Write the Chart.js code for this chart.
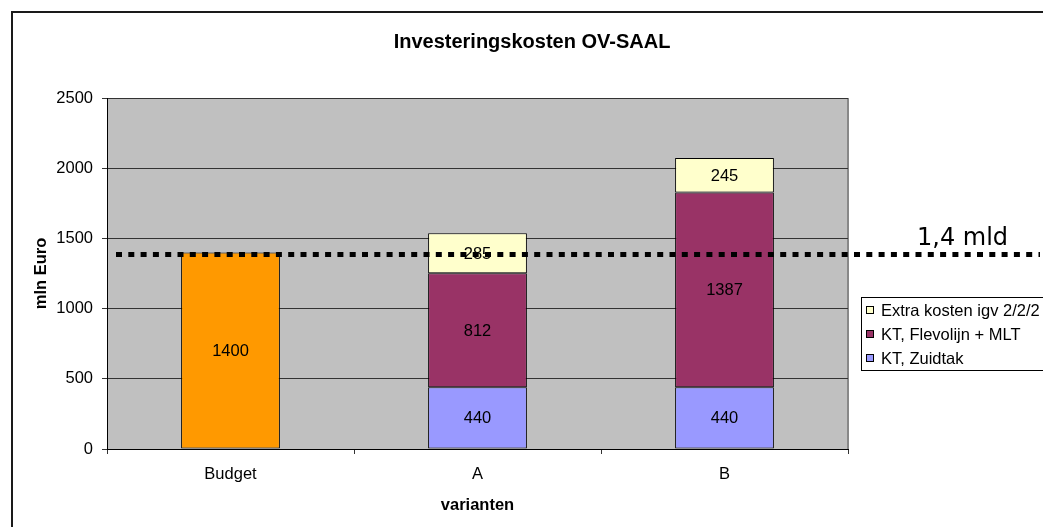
<!DOCTYPE html>
<html><head><meta charset="utf-8">
<script src="https://cdn.jsdelivr.net/npm/chart.js@4.4.1/dist/chart.umd.min.js"></script>
<style>
html,body{margin:0;padding:0;background:#fff;overflow:hidden;width:1043px;height:527px}
#wrap{position:absolute;left:0;top:0;width:1064px;height:527px}
canvas{display:block}
</style></head><body><div id="wrap"><canvas id="c" width="1064" height="527" style="width:1064px;height:527px"></canvas></div>
<script>
// ---- data ----
const categories = ['Budget', 'A', 'B'];
const budget = [1400, null, null];
const zuidtak = [null, 440, 440];
const flevolijn = [null, 812, 1387];
const extra = [null, 285, 245];
const seriesNames = ['Budget', 'KT, Zuidtak', 'KT, Flevolijn + MLT', 'Extra kosten igv 2/2/2'];
const seriesColors = ['#FF9900', '#9999FF', '#993366', '#FFFFCC'];
const yTicks = [0, 500, 1000, 1500, 2000, 2500];
const budgetLine = 1385;
const budgetLineLabel = '1,4 mld';
const chartTitle = 'Investeringskosten OV-SAAL';
const yTitle = 'mln Euro';
const xTitle = 'varianten';

const FONT = "'Liberation Sans', Arial, sans-serif";
Chart.defaults.font.family = FONT;
Chart.defaults.color = '#000';

const decor = {
  id: 'decor',
  beforeDraw(chart) {
    const {ctx, chartArea: a} = chart;
    ctx.save();
    ctx.fillStyle = '#fff';
    ctx.fillRect(0, 0, chart.width, chart.height);
    // outer frame
    ctx.strokeStyle = '#1a1a1a';
    ctx.lineWidth = 2;
    ctx.beginPath();
    ctx.moveTo(12, 540); ctx.lineTo(12, 12); ctx.lineTo(1053, 12); ctx.lineTo(1053, 540);
    ctx.stroke();
    // chart title
    ctx.fillStyle = '#000';
    ctx.font = "bold 20px " + FONT;
    ctx.textAlign = 'center';
    ctx.textBaseline = 'middle';
    ctx.fillText(chartTitle, 532, 42);
    // plot background
    ctx.fillStyle = '#C0C0C0';
    ctx.fillRect(a.left, a.top, a.right - a.left, a.bottom - a.top);
    // plot right border
    ctx.strokeStyle = '#888';
    ctx.lineWidth = 2;
    ctx.beginPath();
    ctx.moveTo(a.right, a.top); ctx.lineTo(a.right, a.bottom);
    ctx.stroke();
    ctx.restore();
  },
  afterDatasetsDraw(chart) {
    const {ctx, scales} = chart;
    ctx.save();
    // dotted budget line
    const yl = scales.y.getPixelForValue(budgetLine);
    ctx.strokeStyle = '#000';
    ctx.lineWidth = 5;
    ctx.setLineDash([6, 6.3]);
    ctx.beginPath();
    ctx.moveTo(116, yl); ctx.lineTo(1040, yl);
    ctx.stroke();
    ctx.setLineDash([]);
    ctx.font = "24px 'DejaVu Sans'";
    ctx.fillStyle = '#000';
    ctx.textAlign = 'left';
    ctx.textBaseline = 'alphabetic';
    ctx.fillText(budgetLineLabel, 917, 245);
    // data labels
    ctx.font = '16.5px ' + FONT;
    ctx.textAlign = 'center';
    ctx.textBaseline = 'middle';
    chart.data.datasets.forEach((ds, i) => {
      const meta = chart.getDatasetMeta(i);
      meta.data.forEach((el, j) => {
        const v = ds.data[j];
        if (v === null || v === undefined) return;
        ctx.fillText(String(v), el.x, (el.y + el.base) / 2 + 1);
      });
    });
    // legend
    ctx.strokeStyle = '#000';
    ctx.lineWidth = 1;
    ctx.strokeRect(861.5, 297.5, 300, 73);
    const order = [3, 2, 1];
    const rowY = [310, 334, 358];
    order.forEach((idx, k) => {
      const y = rowY[k];
      ctx.fillStyle = seriesColors[idx];
      ctx.fillRect(866, y - 4, 8, 8);
      ctx.strokeRect(866.5, y - 3.5, 7, 7);
      ctx.fillStyle = '#000';
      ctx.textAlign = 'left';
      ctx.fillText(seriesNames[idx], 881, y + 1);
    });
    ctx.restore();
  }
};

const common = {stack: 's', borderColor: '#000', borderWidth: 1, borderSkipped: false,
  barPercentage: 0.4, categoryPercentage: 1.0};

new Chart(document.getElementById('c'), {
  type: 'bar',
  data: {
    labels: categories,
    datasets: [
      Object.assign({label: seriesNames[0], data: budget, backgroundColor: seriesColors[0]}, common),
      Object.assign({label: seriesNames[1], data: zuidtak, backgroundColor: seriesColors[1]}, common),
      Object.assign({label: seriesNames[2], data: flevolijn, backgroundColor: seriesColors[2]}, common),
      Object.assign({label: seriesNames[3], data: extra, backgroundColor: seriesColors[3]}, common)
    ]
  },
  options: {
    responsive: false,
    animation: false,
    layout: {padding: {left: 0, right: 216, top: 98, bottom: 0}},
    plugins: {
      legend: {display: false},
      tooltip: {enabled: false},
      title: {display: false}
    },
    scales: {
      x: {
        stacked: true,
        grid: {offset: true, drawOnChartArea: false, drawTicks: true, tickLength: 5, color: '#333'},
        border: {display: true, color: '#000', width: 1},
        ticks: {font: {size: 16.5}, color: '#000', padding: 11},
        title: {display: true, text: xTitle, color: '#000', font: {size: 16.5, weight: 'bold'}, padding: {top: 0, bottom: 12}},
        afterFit(s) { s.height = 78; }
      },
      y: {
        stacked: true,
        min: 0, max: 2500,
        afterBuildTicks(s) { s.ticks = yTicks.map(v => ({value: v})); },
        grid: {color: '#333', lineWidth: 1, drawTicks: true, tickLength: 5},
        border: {display: true, color: '#000', width: 1},
        ticks: {font: {size: 16.5}, color: '#000', padding: 9, callback: v => String(v)},
        title: {display: true, text: yTitle, color: '#000', font: {size: 16.5, weight: 'bold'}, padding: {top: 32, bottom: 0}},
        afterFit(s) { s.width = 107; }
      }
    }
  },
  plugins: [decor]
});
</script></body></html>
